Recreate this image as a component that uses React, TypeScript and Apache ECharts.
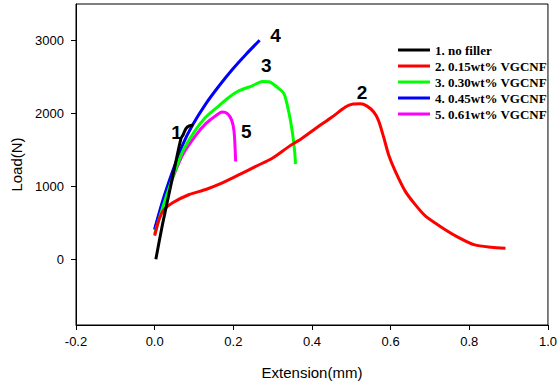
import React, { useEffect, useRef } from "react";
import * as echarts from "echarts";

const seriesNames = [
  "1. no filler",
  "2. 0.15wt% VGCNF",
  "3. 0.30wt% VGCNF",
  "4. 0.45wt% VGCNF",
  "5. 0.61wt% VGCNF",
];
const seriesColors = ["#000000", "#ff0000", "#00ff00", "#0000ff", "#ff00ff"];

const noFiller: number[][] = [
  [0.003, 0], [0.02, 482], [0.0415, 1024], [0.054, 1341], [0.067, 1657],
  [0.0727, 1711], [0.0795, 1793], [0.088, 1829], [0.098, 1837],
];
const vgcnf015: number[][] = [
  [0.0, 325], [0.012, 560], [0.0246, 686], [0.0456, 776], [0.088, 889], [0.13, 957],
  [0.172, 1047], [0.215, 1160], [0.257, 1274], [0.299, 1386], [0.341, 1545],
  [0.375, 1660], [0.409, 1793], [0.451, 1951], [0.485, 2087], [0.502, 2127],
  [0.523, 2131], [0.54, 2100], [0.557, 2019], [0.569, 1905], [0.582, 1680],
  [0.595, 1431], [0.612, 1206], [0.637, 935], [0.662, 753], [0.688, 596],
  [0.73, 438], [0.772, 302], [0.814, 198], [0.856, 167], [0.892, 153],
];
const vgcnf030: number[][] = [
  [0.0, 347], [0.0203, 709], [0.0456, 1115], [0.071, 1477], [0.1006, 1748],
  [0.13, 1951], [0.164, 2108], [0.189, 2222], [0.215, 2312], [0.248, 2379],
  [0.274, 2439], [0.291, 2434], [0.312, 2358], [0.329, 2267], [0.341, 2019],
  [0.35, 1748], [0.356, 1477], [0.358, 1305],
];
const vgcnf045: number[][] = [
  [0.0, 415], [0.0203, 800], [0.0456, 1206], [0.071, 1567], [0.096, 1837],
  [0.13, 2131], [0.164, 2379], [0.198, 2606], [0.232, 2809], [0.267, 3003],
];
const vgcnf061: number[][] = [
  [0.0, 400], [0.0203, 760], [0.0456, 1115], [0.071, 1431], [0.105, 1702],
  [0.13, 1860], [0.156, 1973], [0.172, 2019], [0.185, 1996], [0.196, 1905],
  [0.202, 1748], [0.206, 1341],
];
const seriesData = [noFiller, vgcnf015, vgcnf030, vgcnf045, vgcnf061];

const annotationLabels = ["1", "2", "3", "4", "5"];
const annotationX = [0.0557, 0.527, 0.284, 0.3076, 0.233];
const annotationY = [1738, 2290, 2660, 3066, 1756];

const yTickValues = [0, 1000, 2000, 3000];

export default function App() {
  const ref = useRef<HTMLDivElement>(null);
  useEffect(() => {
    if (!ref.current) return;
    const chart = echarts.init(ref.current, undefined, { renderer: "svg" });
    const axisFont = { fontFamily: "Liberation Sans, Arial, sans-serif", color: "#000" };
    chart.setOption({
      animation: false,
      backgroundColor: "#fff",
      grid: {
        left: 76,
        right: 10,
        top: 4,
        bottom: 56,
        show: true,
        borderColor: "#000",
        borderWidth: 1,
        backgroundColor: "transparent",
      },
      legend: {
        orient: "vertical",
        left: 393,
        top: 37,
        icon: "rect",
        itemWidth: 32,
        itemHeight: 3,
        itemGap: 0,
        data: seriesNames,
        textStyle: {
          fontFamily: "Liberation Serif, Times New Roman, serif",
          fontWeight: "bold",
          fontSize: 13,
          lineHeight: 16,
          color: "#000",
        },
      },
      xAxis: {
        type: "value",
        min: -0.2,
        max: 1.0,
        interval: 0.2,
        name: "Extension(mm)",
        nameLocation: "middle",
        nameGap: 40,
        nameTextStyle: { ...axisFont, fontSize: 15 },
        axisLine: { show: true, onZero: false, lineStyle: { color: "#000", width: 1 } },
        axisTick: { show: true, inside: false, length: 5, lineStyle: { color: "#000" } },
        axisLabel: {
          ...axisFont,
          fontSize: 13,
          margin: 10,
          formatter: (v: number) => v.toFixed(1),
        },
        splitLine: { show: false },
      },
      yAxis: {
        type: "value",
        min: -900,
        max: 3500,
        name: "Load(N)",
        nameLocation: "middle",
        nameGap: 52,
        nameRotate: 90,
        nameTextStyle: { ...axisFont, fontSize: 15 },
        axisLine: { show: true, onZero: false, lineStyle: { color: "#000", width: 1 } },
        axisTick: {
          show: true,
          inside: false,
          length: 5,
          customValues: yTickValues,
          lineStyle: { color: "#000" },
        },
        axisLabel: {
          ...axisFont,
          fontSize: 13,
          margin: 12,
          customValues: yTickValues,
          formatter: (v: number) => String(Math.round(v)),
        },
        splitLine: { show: false },
      },
      series: seriesData.map((d, i) => ({
        name: seriesNames[i],
        type: "line",
        data: d,
        showSymbol: false,
        symbol: "none",
        smooth: 0.25,
        color: seriesColors[i],
        lineStyle: { color: seriesColors[i], width: 3, join: "round" },
        z: 10 - i,
        markPoint: {
          symbol: "circle",
          symbolSize: 0,
          silent: true,
          label: {
            show: true,
            position: "inside",
            formatter: annotationLabels[i],
            fontFamily: "Liberation Sans, Arial, sans-serif",
            fontWeight: "bold",
            fontSize: 19,
            color: "#000",
          },
          data: [{ coord: [annotationX[i], annotationY[i]], value: annotationLabels[i] }],
        },
      })),
    });
    return () => chart.dispose();
  }, []);
  return (
    <div
      ref={ref}
      style={{ position: "fixed", left: 0, top: 0, width: 560, height: 385 }}
    />
  );
}
